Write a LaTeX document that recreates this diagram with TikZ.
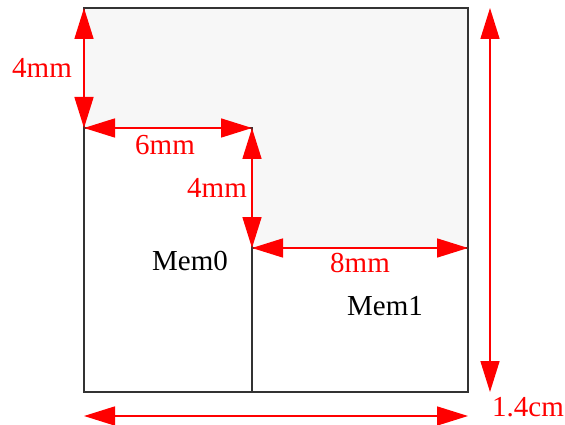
\documentclass[tikz,border=0pt]{standalone}
\usepackage{fontspec}
\setmainfont{Liberation Serif}
\usetikzlibrary{arrows.meta}
\definecolor{fillgray}{HTML}{F7F7F7}
\definecolor{edge}{HTML}{333333}
\begin{document}
\begin{tikzpicture}[x=1pt,y=-1pt,
  dim/.style={red, line width=1.6pt, {Triangle[length=31pt,width=19pt]}-{Triangle[length=31pt,width=19pt]}},
  lbl/.style={text=red, font=\fontsize{29}{32}\selectfont, inner sep=0pt},
  memlbl/.style={text=black, font=\fontsize{29}{32}\selectfont, inner sep=0pt},
  box/.style={draw=edge, line width=1.4pt}]
\useasboundingbox (0,0) rectangle (565,425);
\coordinate (TL) at (84,8);
\coordinate (TR) at (468,8);
\coordinate (BL) at (84,392);
\coordinate (BR) at (468,392);
\coordinate (A) at (84,128);
\coordinate (B) at (252,128);
\coordinate (C) at (252,248);
\coordinate (D) at (468,248);
\coordinate (E) at (252,392);
\coordinate (R1) at (490,8);
\coordinate (R2) at (490,392);
\coordinate (W1) at (84,416);
\coordinate (W2) at (468,416);
\fill[fillgray] (TL) -- (TR) -- (D) -- (C) -- (B) -- (A) -- cycle;
\draw[box] (TL) rectangle (BR);
\draw[box] (A) rectangle (E);
\draw[box] (C) rectangle (BR);
\draw[dim] (TL) -- (A);
\draw[dim] (A) -- (B);
\draw[dim] (B) -- (C);
\draw[dim] (C) -- (D);
\draw[dim] (R1) -- (R2);
\draw[dim] (W1) -- (W2);
\node[lbl] (l1) at (42,68) {4mm};
\node[lbl] (l2) at (165,145) {6mm};
\node[lbl] (l3) at (217,188) {4mm};
\node[lbl] (l4) at (360,263) {8mm};
\node[lbl] (l5) at (528,407) {1.4cm};
\node[memlbl] (m0) at (190,261) {Mem0};
\node[memlbl] (m1) at (385,306) {Mem1};
\end{tikzpicture}
\end{document}
